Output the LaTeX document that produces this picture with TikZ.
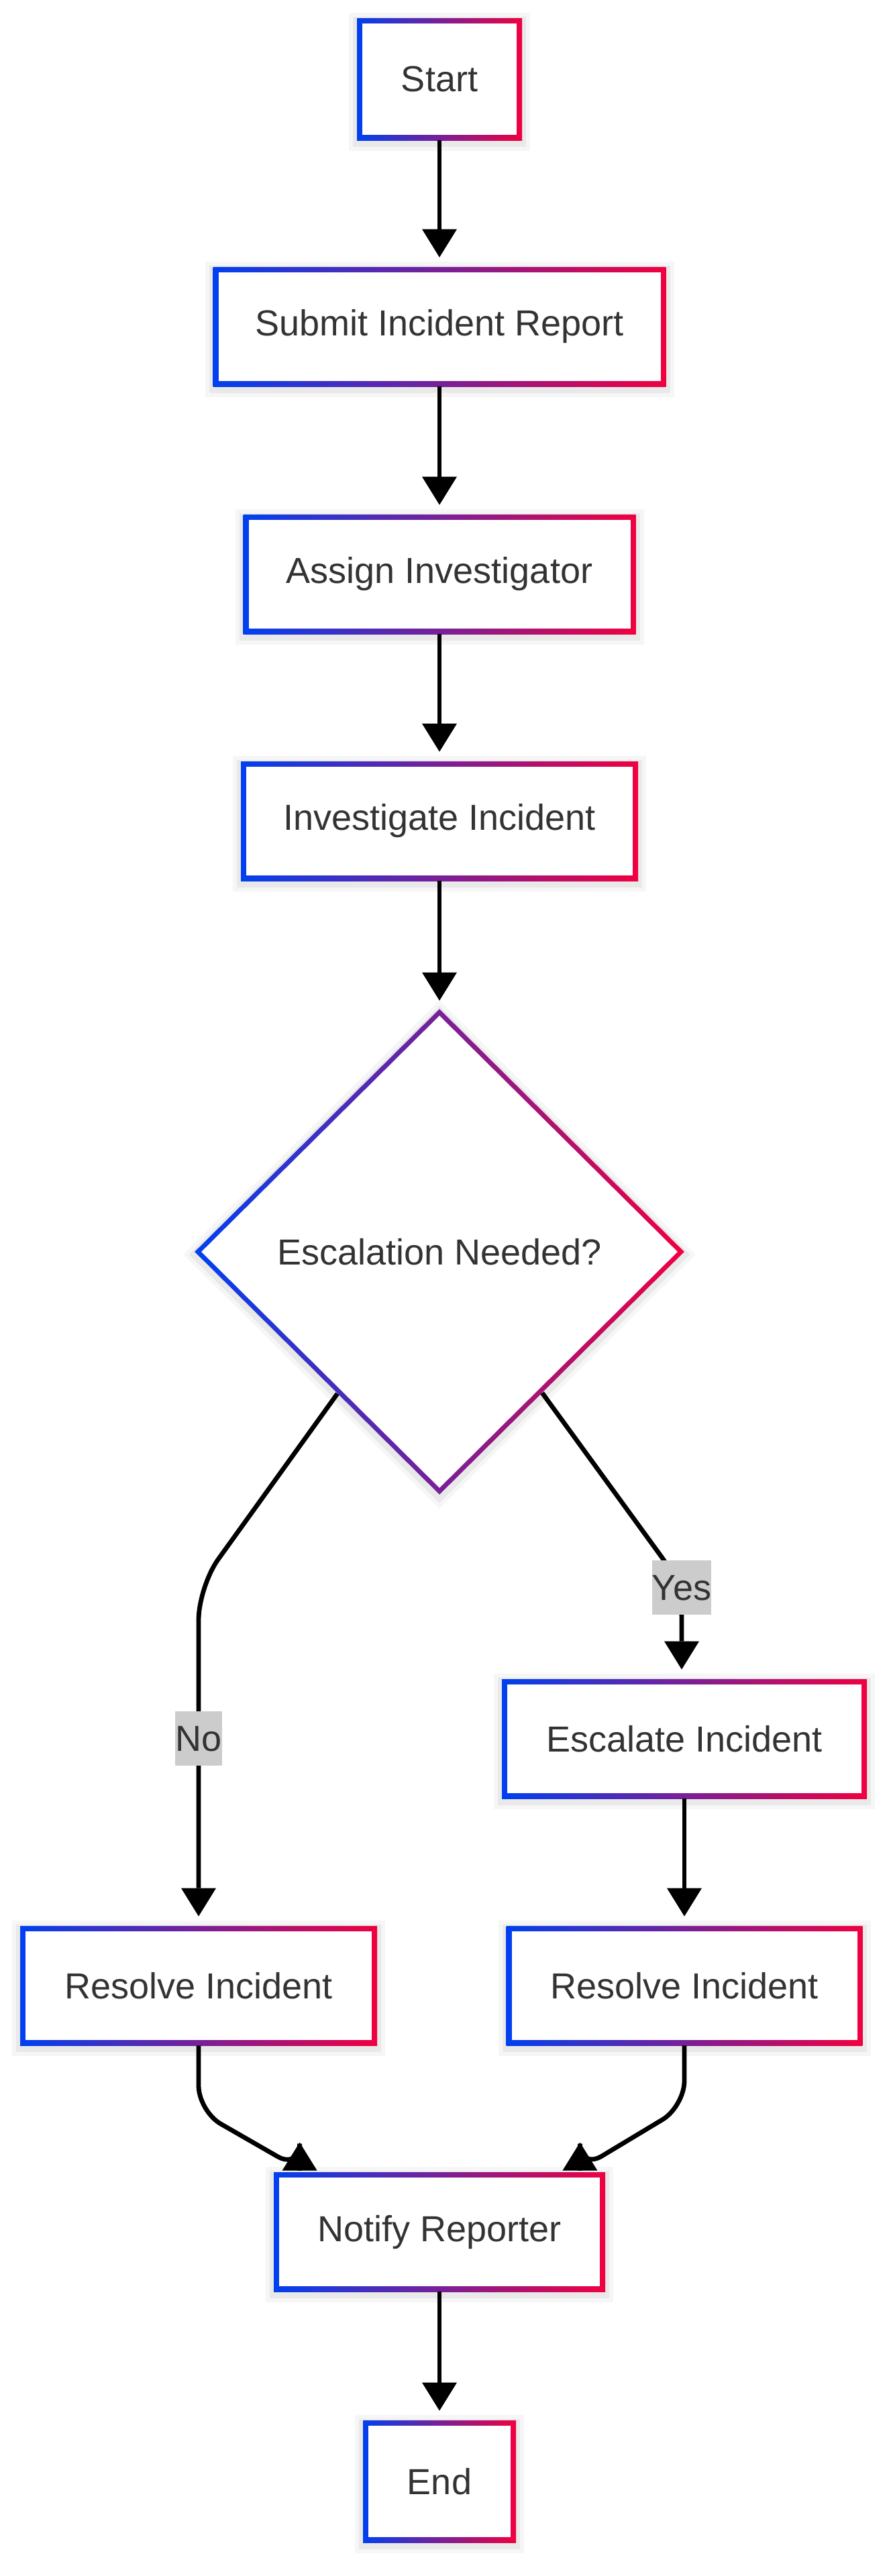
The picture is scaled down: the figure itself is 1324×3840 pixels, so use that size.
\documentclass[tikz,border=0pt]{standalone}
\usepackage{fontspec}
\setmainfont{Liberation Sans}
\usetikzlibrary{arrows.meta,shapes.geometric}
\definecolor{gblue}{RGB}{0,64,240}
\definecolor{gred}{RGB}{240,0,64}
\definecolor{txt}{RGB}{51,51,51}
\definecolor{lblbg}{RGB}{204,204,204}
\begin{document}
\begin{tikzpicture}[x=0.5pt,y=-0.5pt,
  softshadow/.style={
    preaction={draw=black, draw opacity=0.035, line width=12pt, transform canvas={yshift=-2pt}},
    preaction={draw=black, draw opacity=0.05, line width=6pt, transform canvas={yshift=-2pt}}},
  gbox/.style={rectangle, inner sep=0pt, softshadow, left color=gblue, right color=gred,
    text=txt, font=\fontsize{27pt}{32pt}\selectfont, minimum height=89pt,
    path picture={\fill[white] ([shift={(4pt,-4pt)}]path picture bounding box.north west)
      rectangle ([shift={(-4pt,4pt)}]path picture bounding box.south east);}},
  gdia/.style={diamond, aspect=1, inner sep=0pt, softshadow, left color=gblue, right color=gred,
    text=txt, font=\fontsize{27pt}{32pt}\selectfont,
    path picture={\fill[white] ([yshift=-5pt]path picture bounding box.north)
      -- ([xshift=-5pt]path picture bounding box.east)
      -- ([yshift=5pt]path picture bounding box.south)
      -- ([xshift=5pt]path picture bounding box.west) -- cycle;}},
  edgeline/.style={draw=black, line width=3.4pt},
  tipx/.style={-{Triangle[length=21pt,width=26pt,line width=0pt]}},
  conn/.style={edgeline, tipx, shorten >=7pt},
  lbl/.style={fill=lblbg, text=txt, font=\fontsize{27pt}{32pt}\selectfont,
    inner xsep=0pt, inner ysep=0pt, minimum height=40.5pt, text height=19.5pt, text depth=0pt}
]
\useasboundingbox (0,0) rectangle (1324,3840);

% nodes
\node[gbox, minimum width=123pt, minimum height=91pt] (start) at (655,118) {Start};
\node[gbox, minimum width=337.5pt] (sub) at (655,487) {Submit Incident Report};
\node[gbox, minimum width=292.5pt] (asg) at (655,856) {Assign Investigator};
\node[gbox, minimum width=296pt] (inv) at (655,1224) {Investigate Incident};
\node[gdia, minimum width=365pt, minimum height=362pt] (dia) at (655,1866) {Escalation Needed?};
\node[gbox, minimum width=272pt] (esc) at (1020,2592) {Escalate Incident};
\node[gbox, minimum width=266pt] (r1) at (296,2960) {Resolve Incident};
\node[gbox, minimum width=265.5pt] (r2) at (1020,2960) {Resolve Incident};
\node[gbox, minimum width=247pt] (ntf) at (655,3327) {Notify Reporter};
\node[gbox, minimum width=114pt, minimum height=91pt] (end) at (655,3699) {End};

% bend points
\coordinate (cno) at (296,2365);
\coordinate (cyes) at (1016,2362);
\coordinate (m1) at (296,3147);
\coordinate (m2) at (1020,3140);
\coordinate (t1) at ([xshift=19.5pt]ntf.north west);
\coordinate (t2) at ([xshift=-19pt]ntf.north east);

% connectors
\draw[conn] (start) -- (sub);
\draw[conn] (sub) -- (asg);
\draw[conn] (asg) -- (inv);
\draw[conn, shorten >=6pt] (inv) -- (dia);
\draw[conn, rounded corners=25pt] (dia) -- (cno) -- (r1);
\draw[conn, rounded corners=25pt] (dia) -- (cyes) -- (cyes |- esc.north);
\draw[conn] (esc) -- (r2);
\draw[edgeline, tipx, rounded corners=19pt] (r1) -- (m1) -- ([yshift=2pt]t1) [sharp corners] -- ([yshift=22pt]t1);
\draw[edgeline, tipx, rounded corners=19pt] (r2) -- (m2) -- ([yshift=2pt]t2) [sharp corners] -- ([yshift=22pt]t2);
\draw[conn] (ntf) -- (end);

% labels
\node[lbl] (lno) at (296,2591) {No};
\node[lbl] (lyes) at (1016,2366) {Yes};
\end{tikzpicture}
\end{document}
